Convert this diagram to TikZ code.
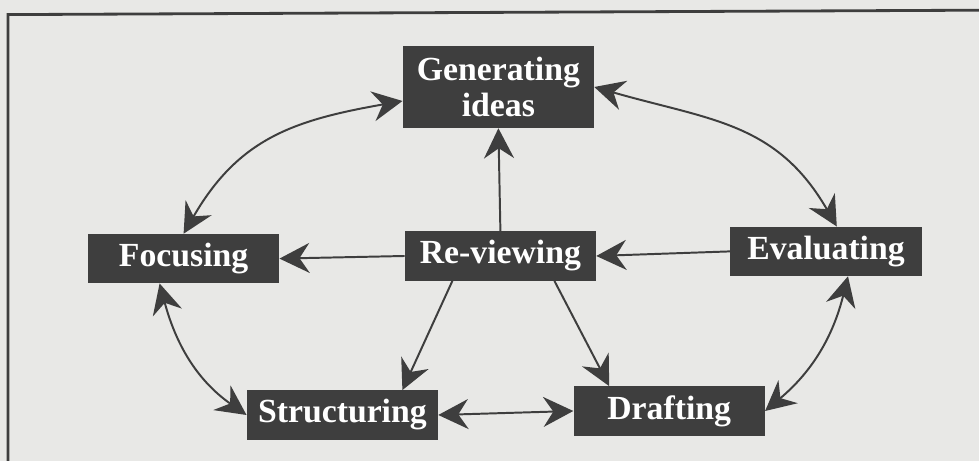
\documentclass[tikz,border=0pt]{standalone}
\usepackage{fontspec}
\setmainfont{Liberation Serif}
\usetikzlibrary{arrows.meta}
\definecolor{paper}{RGB}{232,232,230}
\definecolor{ink}{RGB}{62,62,62}
\tikzstyle{stage} = [fill=ink, text=white, font=\fontsize{24}{25}\selectfont\bfseries, minimum width=4.78cm, minimum height=1.23cm, align=center, inner sep=2pt]
\tikzstyle{arrow} = [draw=ink, line width=1.4pt, -{Stealth[length=0.75cm,width=0.75cm,inset=0.25cm]}]
\tikzstyle{twoway} = [draw=ink, line width=1.4pt, {Stealth[length=0.75cm,width=0.75cm,inset=0.25cm]}-{Stealth[length=0.75cm,width=0.75cm,inset=0.25cm]}]

\begin{document}
\begin{tikzpicture}
    \useasboundingbox[fill=paper] (0,0) rectangle (24.475,11.525);
    % frame of the page
    \draw[ink, line width=2pt] (24.475,11.27) -- (0.2,11.16) -- (0.2,0);

    % stages
    \node[stage, minimum height=2.05cm] (gen) at (12.46,9.35) {Generating\\ideas};
    \node[stage] (rev) at (12.51,5.125) {Re-viewing};
    \node[stage] (foc) at (4.59,5.06) {Focusing};
    \node[stage] (eva) at (20.65,5.24) {Evaluating};
    \node[stage] (str) at (8.56,1.15) {Structuring};
    \node[stage] (dra) at (16.73,1.25) {Drafting};

    % outer ring
    \draw[twoway] (foc.north) to[out=60, in=190, looseness=1.1] ([yshift=-0.35cm]gen.west);
    \draw[twoway] (gen.east) to[out=-16, in=120, looseness=1.1] ([xshift=0.27cm]eva.north);
    \draw[twoway] ([xshift=-0.6cm]foc.south) to[out=-75, in=145] (str.west);
    \draw[twoway] ([xshift=0.55cm]eva.south) to[out=-104, in=40] (dra.east);
    \draw[twoway] (str.east) -- (dra.west);

    % from re-viewing
    \draw[arrow] (rev.north) -- (gen.south);
    \draw[arrow] (eva.west) -- (rev.east);
    \draw[arrow] (rev.west) -- (foc.east);
    \draw[arrow] ([xshift=-1.2cm]rev.south) -- ([xshift=1.5cm]str.north);
    \draw[arrow] ([xshift=1.35cm]rev.south) -- ([xshift=-1.5cm]dra.north);
\end{tikzpicture}
\end{document}
